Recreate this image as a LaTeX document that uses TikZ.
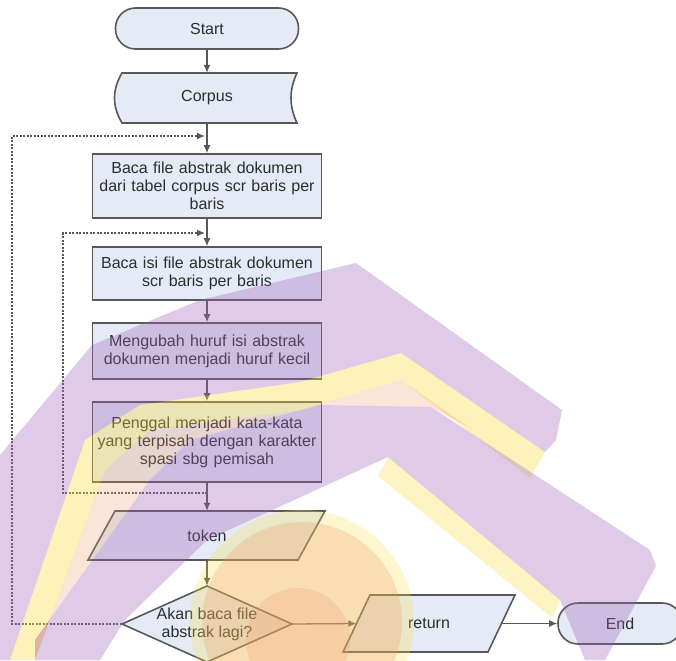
\documentclass[tikz,border=0pt]{standalone}
\usepackage{fontspec}
\setmainfont{Liberation Sans}
\usetikzlibrary{arrows.meta}
\definecolor{boxfill}{RGB}{228,235,246}
\definecolor{boxline}{RGB}{88,88,88}
\definecolor{txt}{RGB}{45,45,45}
\definecolor{wmpurple}{RGB}{160,100,185}
\definecolor{wmyellow}{RGB}{250,220,60}
\definecolor{wmpeach}{RGB}{240,150,100}
\begin{document}
\begin{tikzpicture}[x=1pt,y=-1pt,
  txtfont/.style={font=\fontsize{16}{18}\selectfont, text=txt},
  proc/.style={draw=boxline, line width=1.6pt, fill=boxfill, txtfont, minimum width=229pt, text width=222pt, align=center, inner sep=0pt},
  term/.style={draw=boxline, line width=1.6pt, fill=boxfill, rounded corners=20pt, txtfont, inner sep=0pt},
  shapeline/.style={draw=boxline, line width=1.6pt, fill=boxfill},
  ghost/.style={txtfont, inner sep=0pt, align=center},
  flow/.style={draw=boxline, line width=1.3pt, -{Latex[length=8pt,width=7pt]}},
  loopline/.style={flow, dash pattern=on 2pt off 1.5pt}
]
\useasboundingbox (0,0) rectangle (676,660);
\fill[white] (0,0) rectangle (676,660);

% terminal and process nodes
\node[term, minimum width=183pt, minimum height=41pt] (start) at (207,28.5) {Start};

\draw[shapeline] (122,73) -- (297,73) .. controls (289,90) and (289,106) .. (297,123) -- (122,123) .. controls (112,106) and (112,90) .. cycle;
\node[ghost, minimum width=175pt, minimum height=50pt] (corpus) at (207,98) {Corpus};

\node[proc, minimum height=64pt] (b1) at (207,186) {Baca file abstrak dokumen\\dari tabel corpus scr baris per\\baris};
\node[proc, minimum height=53pt] (b2) at (207,273.5) {Baca isi file abstrak dokumen\\scr baris per baris};
\node[proc, minimum height=56pt] (b3) at (207,351) {Mengubah huruf isi abstrak\\dokumen menjadi huruf kecil};
\node[proc, minimum height=80pt] (b4) at (207,442) {Penggal menjadi kata-kata\\yang terpisah dengan karakter\\spasi sbg pemisah};

\draw[shapeline] (115,511) -- (325,511) -- (298,560) -- (88,560) -- cycle;
\node[ghost, minimum width=210pt, minimum height=49pt] (token) at (207,535.5) {token};

\draw[shapeline] (207,586) -- (292,624) -- (207,662) -- (122,624) -- cycle;
\node[ghost, minimum width=170pt, minimum height=76pt] (dec) at (207,624) {Akan baca file\\abstrak lagi?};

\draw[shapeline] (370,595) -- (515,595) -- (488,652) -- (343,652) -- cycle;
\node[ghost, minimum width=145pt, minimum height=57pt] (ret) at (429,623.5) {return};

\node[term, minimum width=124pt, minimum height=41pt] (end) at (620,623.5) {End};

% junction points
\coordinate (j1) at (207,136);
\coordinate (j2) at (207,233);
\coordinate (j3) at (207,493);
\coordinate (cA) at (12,624);
\coordinate (cB) at (63,493);

% connectors
\draw[flow] (start.south) -- (corpus.north);
\draw[flow] (corpus.south) -- (b1.north);
\draw[flow] (b1.south) -- (b2.north);
\draw[flow] (b2.south) -- (b3.north);
\draw[flow] (b3.south) -- (b4.north);
\draw[flow] (b4.south) -- (token.north);
\draw[flow] (token.south) -- (dec.north);
\draw[flow] (dec.east) -- (ret.west);
\draw[flow] (ret.east) -- (end.west);
\draw[loopline, shorten >=2pt] (dec.west) -- (cA) |- (j1);
\draw[loopline, shorten >=2pt] (j3) -- (cB) |- (j2);

% watermark overlay
\begin{scope}
\clip (0,0) rectangle (676,660);
% outer purple band
\fill[wmpurple, fill opacity=0.33] (0,455) -- (92,345) -- (200,300) -- (356,263) -- (562,410) -- (556,440) -- (545,452) -- (401,353) -- (300,382) -- (140,405) -- (85,440) -- (10,660) -- (0,660) -- cycle;
% yellow band
\fill[wmyellow, fill opacity=0.35] (401,353) -- (545,452) -- (530,478) -- (401,380) -- (300,410) -- (150,430) -- (105,470) -- (35,660) -- (10,660) -- (85,440) -- (140,405) -- (300,382) -- cycle;
% peach between yellow and inner band
\fill[wmpeach, fill opacity=0.25] (401,380) -- (470,428) -- (431,407) -- (320,405) -- (190,440) -- (150,480) -- (35,640) -- (35,660) -- (105,470) -- (150,430) -- (300,410) -- cycle;
% inner purple band
\fill[wmpurple, fill opacity=0.33] (431,407) -- (650,550) -- (656,566) -- (605,660) -- (585,660) -- (560,600) -- (388,457) -- (207,540) -- (125,620) -- (100,660) -- (35,660) -- (35,640) -- (150,480) -- (190,440) -- (320,405) -- cycle;
\fill[wmyellow, fill opacity=0.3] (388,457) -- (560,600) -- (552,618) -- (378,476) -- cycle;
% circle
\fill[wmyellow, fill opacity=0.25] (302,622) circle (112);
\fill[wmpeach, fill opacity=0.25] (302,622) circle (100);
\fill[wmpeach, fill opacity=0.2] (298,640) circle (52);
\end{scope}
\end{tikzpicture}
\end{document}
